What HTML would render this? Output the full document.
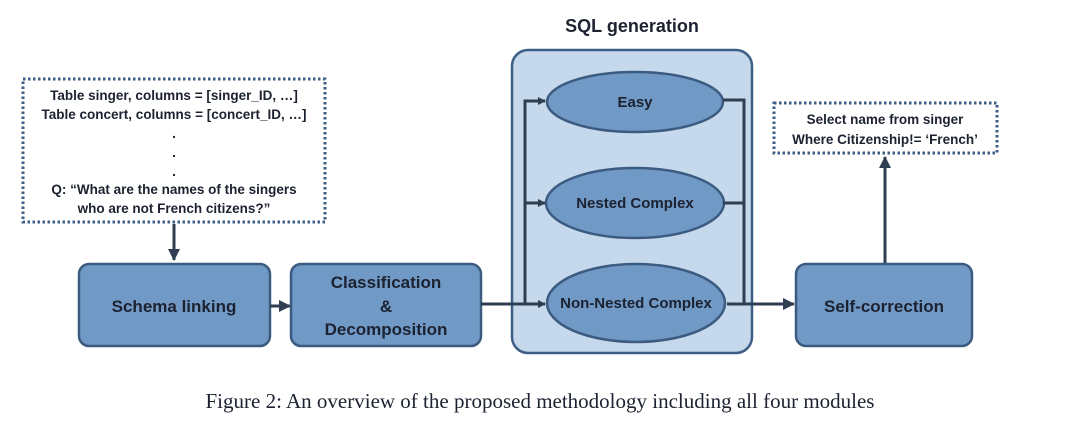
<!DOCTYPE html>
<html><head><meta charset="utf-8"><style>
body{margin:0;background:#fff;}
svg{display:block}
text{font-family:"Liberation Sans",sans-serif;font-weight:bold;fill:#1c2230;text-anchor:middle}
</style></head><body>
<svg width="1080" height="437" viewBox="0 0 1080 437" xmlns="http://www.w3.org/2000/svg">
<defs><marker id="a" markerWidth="8" markerHeight="8" refX="7" refY="4" orient="auto" markerUnits="userSpaceOnUse"><path d="M0,0 L8,4 L0,8 z" fill="#2f3e52"/></marker>
<marker id="b" markerWidth="12" markerHeight="12" refX="11" refY="6" orient="auto" markerUnits="userSpaceOnUse"><path d="M0,0 L12,6 L0,12 z" fill="#2f3e52"/></marker></defs>
<text x="632" y="32" font-size="18">SQL generation</text>
<rect x="512" y="50" width="240" height="303" rx="16" fill="#c6d8eb" stroke="#3e5f85" stroke-width="2.5"/>
<!-- left dotted box -->
<rect x="23" y="79" width="302" height="143" fill="#fff" stroke="#3e5f85" stroke-width="3" stroke-dasharray="2.5,2.5"/>
<g font-size="13.5"><text x="174" y="100">Table singer, columns = [singer_ID, …]</text>
<text x="174" y="119">Table concert, columns = [concert_ID, …]</text>
<text x="174" y="138">.</text><text x="174" y="157">.</text><text x="174" y="176">.</text>
<text x="174" y="194">Q: “What are the names of the singers</text>
<text x="174" y="213">who are not French citizens?”</text></g>
<line x1="174" y1="224" x2="174" y2="260" stroke="#2f3e52" stroke-width="3" marker-end="url(#b)"/>
<rect x="79" y="264" width="191" height="82" rx="10" fill="#7099c6" stroke="#3b5b80" stroke-width="2.5"/>
<text x="174" y="312" font-size="17">Schema linking</text>
<line x1="270" y1="306" x2="290" y2="306" stroke="#2f3e52" stroke-width="3" marker-end="url(#b)"/>
<rect x="291" y="264" width="190" height="82" rx="10" fill="#7099c6" stroke="#3b5b80" stroke-width="2.5"/>
<g font-size="17"><text x="386" y="288">Classification</text><text x="386" y="312">&amp;</text><text x="386" y="335">Decomposition</text></g>
<!-- ellipses -->
<ellipse cx="635" cy="102" rx="88" ry="30" fill="#7099c6" stroke="#3b5b80" stroke-width="2.5"/>
<ellipse cx="635" cy="203" rx="89" ry="35" fill="#7099c6" stroke="#3b5b80" stroke-width="2.5"/>
<ellipse cx="636" cy="303" rx="89" ry="39" fill="#7099c6" stroke="#3b5b80" stroke-width="2.5"/>
<text x="635" y="107" font-size="15">Easy</text>
<text x="635" y="208" font-size="15">Nested Complex</text>
<text x="636" y="308" font-size="15">Non-Nested Complex</text>
<g stroke="#2f3e52" stroke-width="3" fill="none">
<line x1="481" y1="304" x2="545" y2="304" marker-end="url(#a)"/>
<polyline points="525,304 525,101 545,101" marker-end="url(#a)"/>
<line x1="525" y1="203" x2="545" y2="203" marker-end="url(#a)"/>
<polyline points="723,100 744,100 744,304"/>
<line x1="723" y1="203" x2="744" y2="203"/>
<line x1="727" y1="304" x2="794" y2="304" marker-end="url(#b)"/>
<line x1="885" y1="264" x2="885" y2="157" marker-end="url(#b)"/>
</g>
<rect x="796" y="264" width="176" height="82" rx="10" fill="#7099c6" stroke="#3b5b80" stroke-width="2.5"/>
<text x="884" y="312" font-size="17">Self-correction</text>
<rect x="774" y="103" width="223" height="50" fill="#fff" stroke="#3e5f85" stroke-width="3" stroke-dasharray="2.5,2.5"/>
<g font-size="13.5"><text x="885" y="124">Select name from singer</text><text x="885" y="144">Where Citizenship!= ‘French’</text></g>
<text x="540" y="408" font-size="21" style="font-family:'Liberation Serif',serif;font-weight:normal">Figure 2: An overview of the proposed methodology including all four modules</text>
</svg>
</body></html>
